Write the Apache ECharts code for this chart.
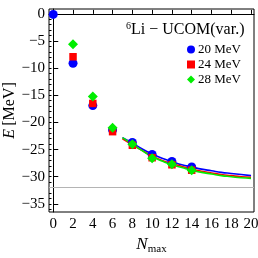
<!DOCTYPE html>
<html><head><meta charset="utf-8">
<script src="https://cdn.jsdelivr.net/npm/echarts@6/dist/echarts.min.js"></script>
<style>html,body{margin:0;padding:0;background:#fff}#c{width:258px;height:258px}</style>
</head><body><div id="c"></div>
<script>
// Data
const nmax = [0, 2, 4, 6, 8, 10, 12, 14];
const e20 = [-0.1, -9.1, -16.9, -21.4, -23.7, -25.9, -27.2, -28.2];
const e24 = [null, -7.9, -16.5, -21.7, -24.2, -26.5, -27.8, -28.8];
const e28 = [null, -5.6, -15.2, -21.0, -24.0, -26.6, -27.7, -28.8];
const fitN = [7, 8, 9, 10, 11, 12, 13, 14, 15, 16, 17, 18, 19, 20];
const fit20 = [-22.8, -23.8, -24.9, -25.8, -26.6, -27.2, -27.8, -28.2, -28.6, -28.9, -29.2, -29.4, -29.6, -29.8];
const fit24 = [-23.0, -24.1, -25.2, -26.2, -27.0, -27.6, -28.1, -28.6, -29.0, -29.3, -29.6, -29.8, -30.0, -30.1];
const fit28 = [-22.8, -24.0, -25.2, -26.3, -27.1, -27.8, -28.3, -28.8, -29.2, -29.5, -29.8, -30.0, -30.2, -30.3];
const xTicks = [0, 2, 4, 6, 8, 10, 12, 14, 16, 18, 20];
const yTicks = [0, -5, -10, -15, -20, -25, -30, -35];
const yMinorTicks = [0,-1,-2,-3,-4,-5,-6,-7,-8,-9,-10,-11,-12,-13,-14,-15,-16,-17,-18,-19,-20,-21,-22,-23,-24,-25,-26,-27,-28,-29,-30,-31,-32,-33,-34,-35,-36];
const refLine = -32;
const seriesNames = ['20 MeV', '24 MeV', '28 MeV'];
const colors = ['#0000ff', '#ff0000', '#00ee00'];

const FONT = '"Liberation Serif", "DejaVu Serif", serif';
const pairs = (xs, ys) => xs.map((x, i) => [x, ys[i]]);

const chart = echarts.init(document.getElementById('c'), null, {renderer: 'canvas'});
const X = {min: -0.43, max: 20.3};
const Y = {min: -36.5, max: 0.9};
chart.setOption({
  animation: false,
  color: colors,
  grid: {left: 49, right: 4, top: 9, bottom: 46, containLabel: false, outerBoundsMode: 'none', show: true, borderColor: '#000', borderWidth: 1, backgroundColor: 'transparent'},
  title: {
    text: '{sup|6}{t|Li − UCOM(var.)}',
    left: 121, top: 16,
    textStyle: {fontWeight: 'normal', rich: {
      sup: {fontFamily: FONT, fontWeight: 'normal', fontSize: 10, color: '#000', verticalAlign: 'top', lineHeight: 18, padding: [0, 0, 6, 0]},
      t: {fontFamily: FONT, fontWeight: 'normal', fontSize: 16, color: '#000', lineHeight: 18}
    }}
  },
  legend: {
    data: seriesNames.map((n, i) => ({name: n, icon: ['circle', 'rect', 'diamond'][i]})),
    orient: 'vertical', left: 182, top: 38, itemGap: 2,
    itemWidth: 8, itemHeight: 8,
    textStyle: {fontFamily: FONT, fontSize: 13, color: '#000', padding: [0, 0, 0, -2]}
  },
  xAxis: [{
    type: 'value', ...X,
    axisLine: {show: true, lineStyle: {color: '#000'}},
    axisTick: {show: true, inside: true, length: 4, customValues: xTicks, lineStyle: {color: '#000'}},
    axisLabel: {customValues: xTicks, fontFamily: FONT, fontSize: 15, color: '#000', margin: 5},
    splitLine: {show: false},
    name: '{i|N}{s|max}', nameLocation: 'middle', nameGap: 22, nameMoveOverlap: false,
    nameTextStyle: {rich: {
      i: {fontFamily: FONT, fontStyle: 'italic', fontSize: 17, color: '#000', lineHeight: 22},
      s: {fontFamily: FONT, fontSize: 11, color: '#000', lineHeight: 22, padding: [9, 0, 0, 0]}
    }}
  }],
  yAxis: [{
    type: 'value', ...Y,
    axisLine: {show: true, lineStyle: {color: '#000'}},
    axisTick: {show: true, inside: true, length: 5, customValues: yTicks, lineStyle: {color: '#000'}},
    axisLabel: {customValues: yTicks, fontFamily: FONT, fontSize: 15, color: '#000', margin: 4,
      formatter: v => (v < 0 ? '−' + Math.abs(v) : String(v))},
    splitLine: {show: false},
    name: '{i|E} {t|[MeV]}', nameLocation: 'middle', nameGap: 31, nameRotate: 90, nameMoveOverlap: false,
    nameTextStyle: {rich: {
      i: {fontFamily: FONT, fontStyle: 'italic', fontSize: 16, color: '#000'},
      t: {fontFamily: FONT, fontSize: 16, color: '#000'}
    }}
  }, {
    type: 'value', ...Y, position: 'left',
    axisLine: {show: false},
    axisTick: {show: true, inside: true, length: 2.5, customValues: yMinorTicks, lineStyle: {color: '#000'}},
    axisLabel: {show: false}, splitLine: {show: false}
  }],
  series: [
    {type: 'line', name: 'fit20', data: pairs(fitN, fit20), smooth: true, showSymbol: false, symbol: 'none', lineStyle: {color: colors[0], width: 1.6}, z: 3,
      markLine: {silent: true, symbol: 'none', label: {show: false}, lineStyle: {color: '#b4b4b4', width: 1, type: 'solid'}, data: [{yAxis: refLine}]}},
    {type: 'line', name: 'fit24', data: pairs(fitN, fit24), smooth: true, showSymbol: false, symbol: 'none', lineStyle: {color: colors[1], width: 1.6}, z: 3},
    {type: 'line', name: 'fit28', data: pairs(fitN, fit28), smooth: true, showSymbol: false, symbol: 'none', lineStyle: {color: colors[2], width: 1.6}, z: 3},
    {type: 'scatter', name: seriesNames[0], clip: false, data: pairs(nmax, e20).filter(p => p[1] !== null), symbol: 'circle', symbolSize: 9, itemStyle: {color: colors[0], opacity: 1}, z: 10},
    {type: 'scatter', name: seriesNames[1], clip: false, data: pairs(nmax, e24).filter(p => p[1] !== null), symbol: 'rect', symbolSize: 7.5, itemStyle: {color: colors[1], opacity: 1}, z: 11},
    {type: 'scatter', name: seriesNames[2], clip: false, data: pairs(nmax, e28).filter(p => p[1] !== null), symbol: 'diamond', symbolSize: 10, itemStyle: {color: colors[2], opacity: 1}, z: 12}
  ]
});
</script></body></html>
